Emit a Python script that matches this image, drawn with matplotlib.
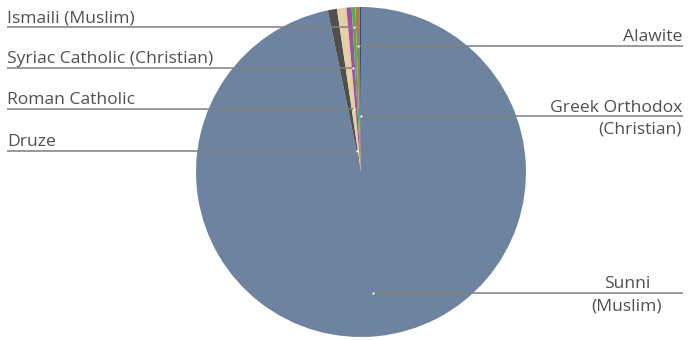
import numpy as np
import matplotlib
matplotlib.use("Agg")
import matplotlib.pyplot as plt

# ---- data (share of population, %) ----
categories = ["Sunni (Muslim)", "Druze", "Roman Catholic", "Syriac Catholic (Christian)",
              "Ismaili (Muslim)", "Alawite", "Greek Orthodox (Christian)"]
values = [96.77, 0.90, 0.92, 0.51, 0.36, 0.40, 0.14]
colors = ["#6e83a0", "#4f4f4f", "#e3d0a4", "#a24fa6", "#4caf50", "#b47a45", "#24518e"]

# label layout: (side, lines of text, y of leader line in pixels from top)
label_side = ["right", "left", "left", "left", "left", "right", "right"]
label_text = [["Sunni", "(Muslim)"], ["Druze"], ["Roman Catholic"], ["Syriac Catholic (Christian)"],
              ["Ismaili (Muslim)"], ["Alawite"], ["Greek Orthodox", "(Christian)"]]
label_liney = [292.5, 150.7, 108.7, 67.7, 27.3, 46.0, 116.0]

W, H = 690, 340
fig = plt.figure(figsize=(6.9, 3.4), dpi=100)
ax = fig.add_axes([0, 0, 1, 1])

cx, cy, R = 361.0, H - 172.0, 165.0
wedges, _ = ax.pie(values, colors=colors, startangle=90, counterclock=False,
                   center=(cx, cy), radius=R,
                   wedgeprops=dict(linewidth=0))
ax.set_xlim(0, W)
ax.set_ylim(0, H)
ax.set_aspect("equal", adjustable="box")
ax.axis("off")

font = dict(family=["Open Sans", "DejaVu Sans"], size=12.6, color="#505050")
line_color = "#7f7f7f"

for w, side, txt, ly in zip(wedges, label_side, label_text, label_liney):
    mid = np.deg2rad((w.theta1 + w.theta2) / 2.0)
    Y = H - ly
    t = (Y - cy) / np.sin(mid)
    ax_x = cx + t * np.cos(mid)
    if side == "left":
        x0, x1 = 7, ax_x
        tx, ha = 7, "left"
    else:
        x0, x1 = ax_x, 683
        tx, ha = 682, "right"
    ax.plot([x0, x1], [Y, Y], color=line_color, lw=1.1, solid_capstyle="butt", zorder=3)
    ax.plot([ax_x], [Y], marker="o", ms=1.2, color="white", mec="white", mew=0.3, zorder=4)
    if len(txt) == 1:
        ax.text(tx, Y + 5, txt[0], ha=ha, va="baseline", **font)
    else:
        if txt[0] == "Sunni":
            tx, ha = 627, "center"
        ax.text(tx, Y + 4.5, txt[0], ha=ha, va="baseline", **font)
        ax.text(tx, Y - 18.0, txt[1], ha=ha, va="baseline", **font)

fig.savefig("out.png", dpi=100)
